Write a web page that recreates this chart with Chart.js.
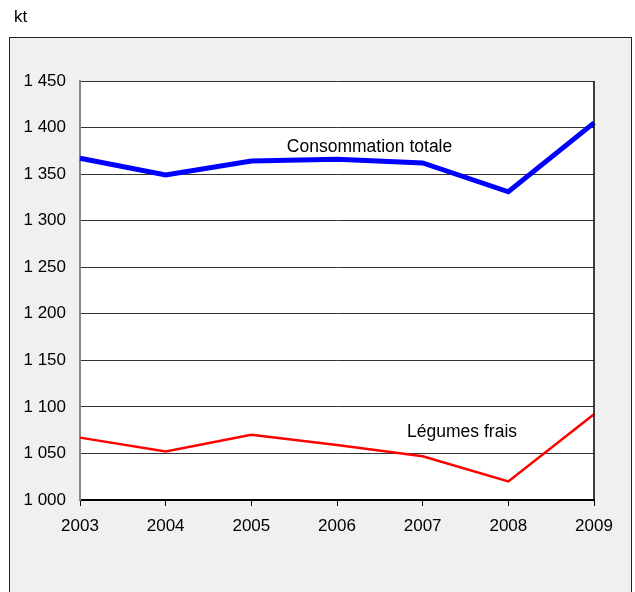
<!DOCTYPE html>
<html>
<head>
<meta charset="utf-8">
<script src="https://cdn.jsdelivr.net/npm/chart.js@4.4.1/dist/chart.umd.min.js"></script>
<style>
    html, body { margin: 0; padding: 0; background: #fff; }
    #wrap { width: 635px; height: 592px; position: relative; }
</style>
</head>
<body>
<div id="wrap"><canvas id="chart" width="635" height="592"></canvas></div>
<script>
/* ---------- Data ---------- */

const years = ['2003', '2004', '2005', '2006', '2007', '2008', '2009'];
const consoTotale = [1367, 1349, 1364, 1366, 1362, 1331, 1405];
const legumesFrais = [1067, 1052, 1070, 1059, 1047, 1020, 1092];
const unitLabel = 'kt';

const FONT = '"Liberation Sans", Arial, sans-serif';

function formatThousands(v) {
    const s = String(Math.round(v));
    return s.replace(/\B(?=(\d{3})+(?!\d))/g, ' ');
}

/* ---------- Frame + annotations ---------- */

const framePlugin = {
    id: 'frame',
    beforeDraw(chart) {
        const ctx = chart.ctx;
        const a = chart.chartArea;
        ctx.save();
        ctx.fillStyle = '#fff';
        ctx.fillRect(0, 0, chart.width, chart.height);
        // outer grey box
        ctx.fillStyle = '#f0f0f0';
        ctx.fillRect(9, 37, 623, 600);
        ctx.strokeStyle = '#222';
        ctx.lineWidth = 1;
        ctx.strokeRect(9.5, 37.5, 622, 600);
        // white plot area
        ctx.fillStyle = '#fff';
        ctx.fillRect(a.left, a.top, a.right - a.left, a.bottom - a.top);
        // unit label
        ctx.fillStyle = '#000';
        ctx.font = '17px ' + FONT;
        ctx.textBaseline = 'middle';
        ctx.fillText(unitLabel, 14, 17);
        ctx.restore();
    },
    afterDraw(chart) {
        const ctx = chart.ctx;
        const a = chart.chartArea;
        const xs = chart.scales.x;
        const ys = chart.scales.y;
        ctx.save();
        ctx.strokeStyle = '#000';
        ctx.lineWidth = 1.5;
        ctx.beginPath();
        ctx.moveTo(a.right, a.top);
        ctx.lineTo(a.right, a.bottom);
        ctx.stroke();

        ctx.fillStyle = '#000';
        ctx.font = '17.5px ' + FONT;
        ctx.textAlign = 'center';
        ctx.textBaseline = 'middle';
        ctx.fillText('Consommation totale', xs.getPixelForValue(3.38), ys.getPixelForValue(1379));
        ctx.fillText('Légumes frais', xs.getPixelForValue(4.46), ys.getPixelForValue(1073));
        ctx.restore();
    }
};

/* ---------- Chart ---------- */

new Chart(document.getElementById('chart'), {
    type: 'line',
    data: {
        labels: years,
        datasets: [
            {
                label: 'Consommation totale',
                data: consoTotale,
                borderColor: '#0000ff',
                borderWidth: 5,
                pointRadius: 0,
                tension: 0,
            },
            {
                label: 'Légumes frais',
                data: legumesFrais,
                borderColor: '#ff0000',
                borderWidth: 2.5,
                pointRadius: 0,
                tension: 0,
            },
        ],
    },
    options: {
        responsive: false,
        animation: false,
        layout: { padding: { left: 10, right: 41, top: 81, bottom: 52 } },
        plugins: {
            legend: { display: false },
            tooltip: { enabled: false },
        },
        scales: {
            x: {
                offset: false,
                grid: { drawOnChartArea: false, drawTicks: true, tickLength: 6, color: '#000' },
                border: { color: '#000', width: 2 },
                ticks: { color: '#000', font: { family: FONT, size: 17 }, padding: 10, maxRotation: 0 },
                afterFit(s) { s.height = 40; },
            },
            y: {
                min: 1000,
                max: 1450,
                grid: { drawTicks: false, color: '#333', lineWidth: 1 },
                border: { color: '#888', width: 2 },
                ticks: {
                    stepSize: 50,
                    color: '#000',
                    font: { family: FONT, size: 17 },
                    padding: 14,
                    callback: v => formatThousands(v),
                },
                afterFit(s) { s.width = 70; },
            },
        },
    },
    plugins: [framePlugin],
});
</script>
</body>
</html>
